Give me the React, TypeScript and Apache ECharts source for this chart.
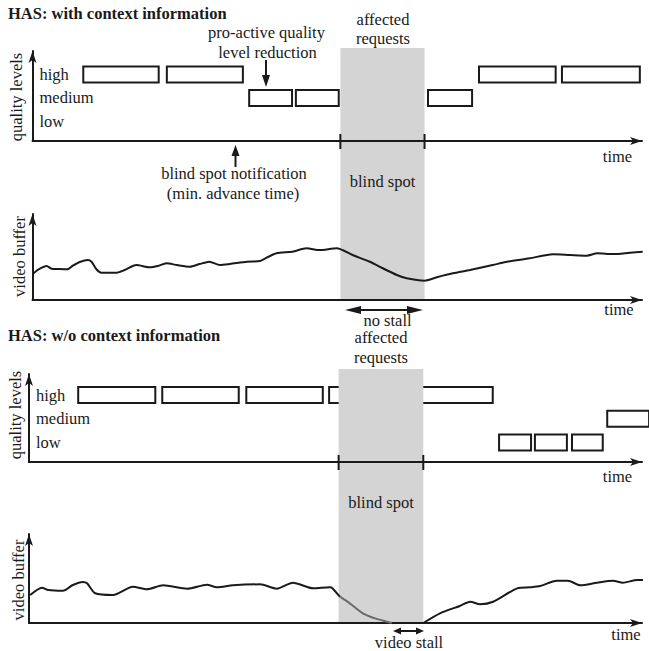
import React, { useEffect, useRef } from 'react';
import * as echarts from 'echarts';

// ---------- data ----------
const levelNames = ['low', 'medium', 'high'];
const levelValues = [1, 2, 3];
const blindSpot = [50.1, 63.8];

// quality-level requests: [start time, end time, level index]
const withContextRequests = [
  [8.1, 20.7, 2], [21.7, 34.4, 2], [35.1, 42.4, 1], [42.7, 50.0, 1],
  [64.2, 71.7, 1], [72.5, 85.3, 2], [86.0, 99.0, 2],
];
const withoutContextRequests = [
  [7.8, 20.6, 2], [21.4, 34.1, 2], [35.0, 47.7, 2], [48.4, 61.2, 2], [62.1, 75.2, 2],
  [75.9, 81.4, 0], [81.7, 87.2, 0], [87.7, 93.0, 0], [93.4, 100.5, 1],
];

// video buffer level: [time, buffer]
const withContextBuffer = [
  [0.2, 29.0], [0.8, 32.6], [2.3, 37.0], [3.1, 34.0], [4.1, 33.7], [5.7, 33.4], [6.5, 37.0],
  [7.7, 41.3], [9.0, 43.5], [9.6, 41.6], [10.4, 33.4], [11.2, 29.7], [13.7, 29.7], [15.0, 32.6],
  [16.9, 38.0], [19.1, 35.5], [20.4, 37.0], [21.8, 39.9], [23.5, 38.0], [25.6, 36.2], [27.2, 39.1],
  [28.8, 41.6], [30.5, 38.0], [32.1, 39.1], [34.9, 41.6], [37.0, 42.4], [38.1, 46.0], [39.7, 50.8],
  [42.3, 52.5], [44.6, 56.2], [46.7, 54.3], [49.5, 56.2], [52.1, 48.9], [54.9, 41.6], [57.0, 34.5],
  [59.3, 27.2], [60.9, 23.6], [63.8, 21.0], [65.8, 24.7], [68.4, 29.0], [71.2, 32.6], [74.9, 38.0],
  [77.2, 41.6], [80.9, 45.3], [84.7, 49.7], [87.5, 48.9], [90.2, 48.2], [91.9, 50.8], [94.5, 50.0],
  [97.2, 51.4], [99.3, 52.5],
];
const withoutContextBufferBefore = [
  [0.2, 29.5], [2.1, 37.2], [3.1, 34.7], [5.5, 33.9], [7.1, 40.0], [8.7, 43.2], [9.4, 41.8],
  [10.7, 31.3], [13.6, 29.5], [16.8, 38.2], [19.1, 35.5], [21.7, 39.7], [25.6, 36.1], [28.8, 40.3],
  [30.4, 37.6], [33.0, 39.7], [37.4, 40.7], [40.1, 36.1], [42.7, 42.4], [46.0, 36.5], [48.7, 37.6],
  [49.0, 37.2], [50.3, 27.7],
];
const withoutContextBufferDrain = [
  [50.3, 27.7], [51.9, 20.7], [54.0, 10.2], [56.0, 4.9], [58.7, 0],
];
const withoutContextBufferAfter = [
  [63.8, 0], [66.5, 10.2], [69.7, 17.9], [71.4, 22.4], [73.0, 19.7], [75.1, 22.4], [79.0, 36.5],
  [81.1, 37.6], [82.7, 38.9], [85.4, 44.5], [87.2, 44.5], [89.2, 39.7], [91.9, 42.4], [94.5, 44.5],
  [96.1, 42.4], [98.4, 45.3], [99.7, 45.3],
];

// ---------- styling ----------
const FONT = 'Liberation Serif, Times New Roman, serif';
const FS = 16.5;
const INK = '#1a1a1a';
const BAND = '#d4d4d4';

const axisLine = (arrow: boolean) => ({
  show: true,
  onZero: false,
  symbol: arrow ? ['none', 'arrow'] : 'none',
  symbolSize: [6, 12],
  lineStyle: { color: INK, width: 2 },
});

const valueAxis = (gridIndex: number, min: number, max: number, show = true) => ({
  type: 'value', gridIndex, min, max, show, z: 5,
  axisLine: axisLine(true), axisTick: { show: false }, axisLabel: { show: false },
  splitLine: { show: false },
});

const txt = (text: string, x: number, y: number, o: any = {}) => ({
  type: 'text', x, y, z: 30, rotation: o.rotation || 0,
  style: {
    text, fill: INK, fontFamily: FONT, fontSize: FS, fontWeight: o.bold ? 'bold' : 'normal',
    align: o.align || 'center', verticalAlign: 'middle',
  },
});
const seg = (x1: number, y1: number, x2: number, y2: number) => ({
  type: 'line', z: 30, shape: { x1, y1, x2, y2 }, style: { stroke: INK, lineWidth: 2 },
});
const tri = (points: number[][]) => ({ type: 'polygon', z: 30, shape: { points }, style: { fill: INK } });

const boxSeries = (idx: number, data: number[][]) => ({
  type: 'custom', xAxisIndex: idx, yAxisIndex: idx, z: 2, silent: true,
  data: data.map(([a, b, l]) => [a, b, levelValues[l]]),
  renderItem: (_p: any, api: any) => {
    const s = api.coord([api.value(0), api.value(2)]);
    const e = api.coord([api.value(1), api.value(2)]);
    return {
      type: 'rect',
      shape: { x: s[0] + 1, y: s[1] - 8, width: e[0] - s[0] - 2, height: 16 },
      style: { fill: '#fff', stroke: INK, lineWidth: 2 },
    };
  },
});
const bandSeries = (idx: number) => ({
  type: 'custom', xAxisIndex: idx, yAxisIndex: idx, z: 3, silent: true,
  data: [blindSpot],
  renderItem: (_p: any, api: any) => {
    const a = api.coord([api.value(0), 1]);
    const b = api.coord([api.value(1), 0]);
    return { type: 'rect', shape: { x: a[0], y: a[1], width: b[0] - a[0], height: b[1] - a[1] }, style: { fill: BAND } };
  },
});
const tickSeries = (idx: number, base: number) => ({
  type: 'custom', xAxisIndex: idx, yAxisIndex: idx, z: 8, silent: true,
  data: blindSpot.map((v) => [v, base]),
  renderItem: (_p: any, api: any) => {
    const p = api.coord([api.value(0), api.value(1)]);
    return { type: 'line', shape: { x1: p[0], y1: p[1] - 7, x2: p[0], y2: p[1] + 8 }, style: { stroke: INK, lineWidth: 2 } };
  },
});
const labelSeries = (idx: number) => ({
  type: 'scatter', xAxisIndex: idx, yAxisIndex: idx, symbolSize: 0, z: 8, silent: true, clip: false,
  itemStyle: { opacity: 1 },
  data: levelValues.map((v, i) => ({ value: [0, v], name: levelNames[i] })),
  label: { show: true, position: 'right', distance: 7, formatter: '{b}', fontFamily: FONT, fontSize: FS, color: INK, opacity: 1 },
});
const bufferSeries = (idx: number, data: number[][], color: string) => ({
  type: 'line', xAxisIndex: idx, yAxisIndex: idx, z: 7, silent: true, data,
  showSymbol: false, smooth: 0.25, lineStyle: { color, width: 2 },
});

export default function App() {
  const ref = useRef<HTMLDivElement>(null);
  useEffect(() => {
    const chart = echarts.init(ref.current!, null, { renderer: 'svg' });
    const X_MAX = 99.19;
    chart.setOption({
      animation: false,
      backgroundColor: '#fff',
      grid: [
        { left: 32.5, top: 51, width: 609.5, height: 90 },   // 0 quality, with context
        { left: 32.5, top: 214, width: 609.5, height: 86 },  // 1 buffer, with context
        { left: 32.5, top: 48, width: 609.5, height: 252 },  // 2 band, with context
        { left: 29, top: 374, width: 613, height: 88 },      // 3 quality, w/o context
        { left: 29, top: 534, width: 613, height: 89 },      // 4 buffer, w/o context
        { left: 29, top: 369, width: 613, height: 254 },     // 5 band, w/o context
      ],
      xAxis: [
        valueAxis(0, 0, X_MAX), valueAxis(1, 0, X_MAX), valueAxis(2, 0, X_MAX, false),
        valueAxis(3, 0, X_MAX), valueAxis(4, 0, X_MAX), valueAxis(5, 0, X_MAX, false),
      ],
      yAxis: [
        valueAxis(0, 0.17, 4.0), valueAxis(1, 0, 93.5), valueAxis(2, 0, 1, false),
        valueAxis(3, 0.18, 3.89), valueAxis(4, 0, 93.7), valueAxis(5, 0, 1, false),
      ],
      series: [
        boxSeries(0, withContextRequests),
        bandSeries(2),
        tickSeries(0, 0.17),
        labelSeries(0),
        bufferSeries(1, withContextBuffer, INK),
        boxSeries(3, withoutContextRequests),
        bandSeries(5),
        tickSeries(3, 0.18),
        labelSeries(3),
        bufferSeries(4, withoutContextBufferBefore, INK),
        bufferSeries(4, withoutContextBufferDrain, '#6a6a6a'),
        bufferSeries(4, withoutContextBufferAfter, INK),
      ],
      graphic: [
        txt('HAS: with context information', 8, 13, { bold: true, align: 'left' }),
        txt('HAS: w/o context information', 8, 335.5, { bold: true, align: 'left' }),
        txt('pro-active quality', 266.5, 32.5),
        txt('level reduction', 267.5, 52),
        seg(266, 60, 266, 77), tri([[262, 75], [270, 75], [266, 87]]),
        txt('affected', 383, 19.5), txt('requests', 383, 38.5),
        seg(235.5, 167, 235.5, 154), tri([[231.5, 156], [239.5, 156], [235.5, 145]]),
        txt('blind spot notification', 234, 173),
        txt('(min. advance time)', 233, 193),
        txt('blind spot', 382.5, 181),
        txt('time', 617.5, 156), txt('time', 619, 309.5),
        seg(352, 310, 416, 310), tri([[345, 310], [361, 306], [361, 314]]), tri([[423, 310], [407, 306], [407, 314]]),
        txt('no stall', 387.5, 320.5),
        txt('affected', 381, 337.5), txt('requests', 381, 357),
        txt('blind spot', 381, 502.5),
        txt('time', 617.5, 476), txt('time', 626, 634.5),
        seg(398, 631, 419, 631), tri([[393, 631], [401, 627.5], [401, 634.5]]), tri([[424, 631], [416, 627.5], [416, 634.5]]),
        txt('video stall', 409, 642.5),
        txt('quality levels', 16, 97, { rotation: Math.PI / 2 }),
        txt('quality levels', 15, 415, { rotation: Math.PI / 2 }),
        txt('video buffer', 19, 256.5, { rotation: Math.PI / 2 }),
        txt('video buffer', 18, 580, { rotation: Math.PI / 2 }),
      ],
    });
    return () => chart.dispose();
  }, []);
  return <div ref={ref} style={{ position: 'absolute', left: 0, top: 0, width: 649, height: 651 }} />;
}
